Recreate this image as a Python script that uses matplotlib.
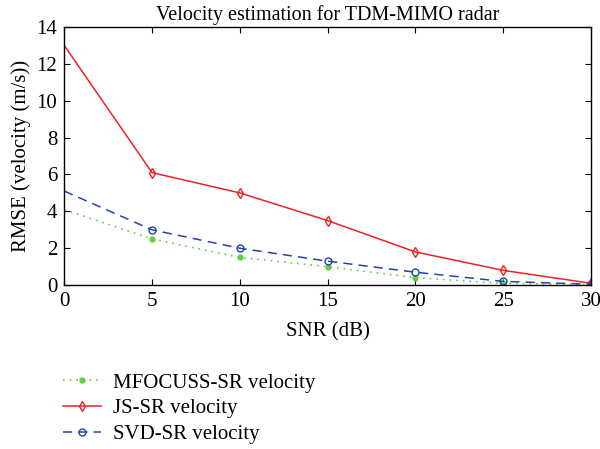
import matplotlib
matplotlib.use("Agg")
import matplotlib.pyplot as plt

snr = [0, 5, 10, 15, 20, 25, 30]
mfocuss = [4.1, 2.5, 1.5, 1.0, 0.4, 0.1, 0.02]
js = [13.0, 6.1, 5.0, 3.5, 1.8, 0.8, 0.1]
svd = [5.1, 3.0, 2.0, 1.3, 0.7, 0.2, 0.05]

plt.rcParams['font.family'] = ['Liberation Serif', 'DejaVu Serif']

fig = plt.figure(figsize=(6, 4.49), dpi=100)
ax = fig.add_axes([0.107, 0.365, 0.878, 0.575])

marks = slice(1, None)
ax.plot(snr, mfocuss, color='#66cc44', linestyle=(0, (1, 3)), linewidth=1.2,
        marker='o', markersize=3.5, markerfacecolor='#66cc44', markeredgecolor='#66cc44',
        markevery=marks, label='MFOCUSS-SR velocity')
ax.plot(snr, js, color='#ee2222', linestyle='-', linewidth=1.1,
        marker='d', markersize=5.5, markerfacecolor='none', markeredgecolor='#ee2222',
        markevery=marks, label='JS-SR velocity')
ax.plot(snr, svd, color='#2244aa', linestyle=(0, (6, 4)), linewidth=1.1,
        marker='o', markersize=5, markerfacecolor='none', markeredgecolor='#2244aa',
        markevery=marks, label='SVD-SR velocity')

ax.set_xlim(0, 30)
ax.set_ylim(0, 14)
ax.set_xticks([0, 5, 10, 15, 20, 25, 30])
ax.set_yticks([0, 2, 4, 6, 8, 10, 12, 14])
ax.tick_params(direction='in', top=True, right=True, labelsize=15, length=4, pad=5)
for s in ax.spines.values():
    s.set_linewidth(1.0)

ax.set_title('Velocity estimation for TDM-MIMO radar', fontsize=14.5, pad=5)
ax.set_xlabel('SNR (dB)', fontsize=15, labelpad=8)
ax.set_ylabel('RMSE (velocity (m/s))', fontsize=15, labelpad=4)

ax.legend(loc='upper left', bbox_to_anchor=(-0.018, -0.308), frameon=False,
          fontsize=15, handlelength=1.8, handletextpad=0.6,
          labelspacing=0.3, borderaxespad=0)

fig.savefig('out.png', dpi=100)
